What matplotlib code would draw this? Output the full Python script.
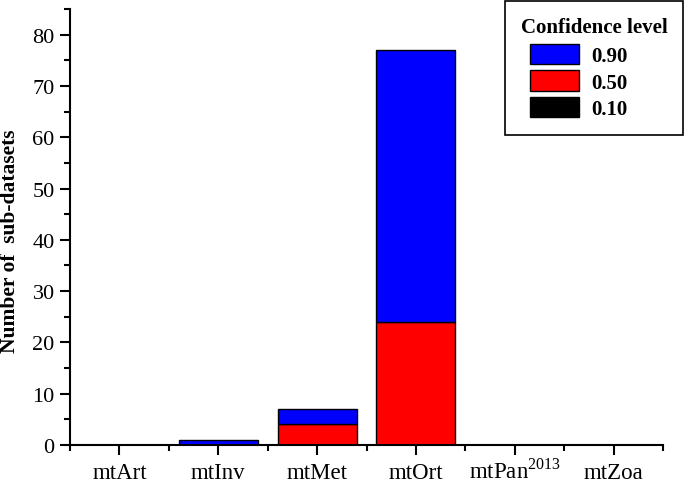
import matplotlib
matplotlib.use("Agg")
import matplotlib.pyplot as plt
import numpy as np
from matplotlib.ticker import MultipleLocator, FixedLocator
from matplotlib.patches import Rectangle
from matplotlib.legend_handler import HandlerPatch

plt.rcParams['font.family'] = ['Liberation Serif', 'DejaVu Serif']
plt.rcParams['mathtext.fontset'] = 'custom'
plt.rcParams['mathtext.rm'] = 'Liberation Serif'

categories = ['mtArt', 'mtInv', 'mtMet', 'mtOrt', 'mtPan$^{2013}$', 'mtZoa']
conf_010 = [0, 0, 0, 0, 0, 0]
conf_050 = [0, 0, 4, 24, 0, 0]
conf_090 = [0, 1, 3, 53, 0, 0]
levels = ['0.90', '0.50', '0.10']
colors = {'0.90': '#0000ff', '0.50': '#ff0000', '0.10': '#000000'}

fig = plt.figure(figsize=(6.85, 4.81), dpi=100)
ax = fig.add_axes([70/685, 35/481, (663-70)/685, (446-10)/481])

x = np.arange(len(categories))
w = 0.8
b010 = ax.bar(x, conf_010, w, color=colors['0.10'], edgecolor='black', linewidth=1, label='0.10')
b050 = ax.bar(x, conf_050, w, bottom=conf_010, color=colors['0.50'], edgecolor='black', linewidth=1, label='0.50')
bottom2 = np.array(conf_010) + np.array(conf_050)
b090 = ax.bar(x, conf_090, w, bottom=bottom2, color=colors['0.90'], edgecolor='black', linewidth=1, label='0.90')

ax.set_xlim(-0.5, 5.5)
ax.set_ylim(0, 85)
ax.yaxis.set_major_locator(MultipleLocator(10))
ax.yaxis.set_minor_locator(MultipleLocator(5))
ax.set_xticks(x)
ax.set_xticklabels(categories, fontsize=16.5)
for lbl in ax.get_xticklabels():
    lbl.set_verticalalignment('baseline')
ax.xaxis.set_minor_locator(FixedLocator(np.arange(-0.5, 6.0, 1.0)))
ax.tick_params(axis='y', labelsize=16, direction='out', length=7, width=1.5, pad=4)
ax.tick_params(axis='y', which='minor', direction='out', length=4, width=1.5)
ax.tick_params(axis='x', which='major', direction='out', length=7, width=1.5, pad=16.5)
ax.tick_params(axis='x', which='minor', direction='out', length=4, width=1.5)
for s in ['top', 'right']:
    ax.spines[s].set_visible(False)
for s in ['left', 'bottom']:
    ax.spines[s].set_linewidth(1.5)

ax.set_ylabel('Number of  sub-datasets', fontsize=15.5, fontweight='bold')
ax.yaxis.label.set_verticalalignment('center')
ax.yaxis.set_label_coords((10 - 70) / 593, 0.47)

handles = [b090.patches[0], b050.patches[0], b010.patches[0]]
leg = fig.legend(handles=handles, labels=levels,
                 loc='upper right', bbox_to_anchor=(683/685, 1 - 2/481),
                 title='Confidence level', fancybox=False, framealpha=1,
                 edgecolor='black', handlelength=2.78, handleheight=1.15,
                 borderpad=0.75, labelspacing=0.2, handletextpad=0.62,
                 borderaxespad=0, alignment='left',
                 handler_map={Rectangle: HandlerPatch(xpad=0.43)},
                 prop={'weight': 'bold', 'size': 15})
leg.get_title().set_fontweight('bold')
leg.get_title().set_fontsize(15)
leg._legend_box.sep = 5
leg.get_frame().set_linewidth(1.2)

fig.savefig('out.png', dpi=100)
